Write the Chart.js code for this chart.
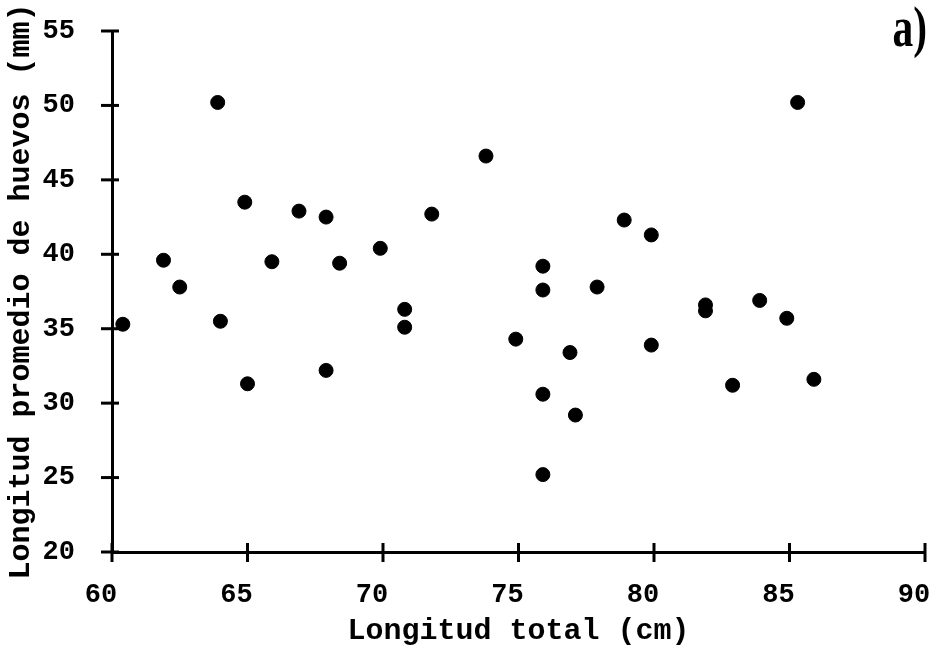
<!DOCTYPE html>
<html>
<head>
<meta charset="utf-8">
<script src="https://cdn.jsdelivr.net/npm/chart.js"></script>
<style>
  html, body { margin: 0; padding: 0; background: #fff; }
  #wrap { width: 935px; height: 646px; }
</style>
</head>
<body>
<div id="wrap"><canvas id="grafico"></canvas></div>
<script>
// longitud total de la hembra (cm)
const longitudTotal = [
    60.4, 63.9, 61.9, 62.5, 64.0, 64.9, 65.0, 65.9, 66.9, 67.9,
    71.8, 69.9, 68.4, 73.8, 70.8, 70.8, 67.9, 78.9, 79.9, 75.9,
    75.9, 77.9, 74.9, 76.9, 79.9, 75.9, 77.1, 75.9, 81.9, 81.9,
    83.9, 84.9, 82.9, 85.9, 85.3
];
// longitud promedio de huevos (mm)
const longitudHuevos = [
    35.3, 50.2, 39.6, 37.8, 35.5, 43.5, 31.3, 39.5, 42.9, 42.5,
    42.7, 40.4, 39.4, 46.6, 36.3, 35.1, 32.2, 42.3, 41.3, 39.2,
    37.6, 37.8, 34.3, 33.4, 33.9, 30.6, 29.2, 25.2, 36.6, 36.2,
    36.9, 35.7, 31.2, 31.6, 50.2
];
const ticksX = [60, 65, 70, 75, 80, 85, 90];
const ticksY = [20, 25, 30, 35, 40, 45, 50, 55];

const puntos = longitudTotal.map((x, i) => ({ x: x, y: longitudHuevos[i] }));

const fuenteMono = "'Liberation Mono', 'DejaVu Sans Mono', monospace";

// marcas que cruzan el eje (como en el original)
const marcasCruzadas = {
    id: 'marcasCruzadas',
    afterDraw(chart) {
        const ctx = chart.ctx;
        const sx = chart.scales.x;
        const sy = chart.scales.y;
        ctx.save();
        ctx.strokeStyle = '#000';
        ctx.lineWidth = 3;
        ticksY.forEach(v => {
            const py = sy.getPixelForValue(v);
            ctx.beginPath();
            ctx.moveTo(sx.left - 11, py);
            ctx.lineTo(sx.left + 7, py);
            ctx.stroke();
        });
        ticksX.forEach(v => {
            const px = sx.getPixelForValue(v);
            ctx.beginPath();
            ctx.moveTo(px, sy.bottom - 9);
            ctx.lineTo(px, sy.bottom + 10);
            ctx.stroke();
        });
        // etiqueta del panel
        ctx.fillStyle = '#000';
        ctx.font = "bold 56px 'Liberation Serif', serif";
        ctx.textAlign = 'right';
        ctx.textBaseline = 'alphabetic';
        ctx.translate(sx.right + 2, 46);
        ctx.scale(0.74, 1);
        ctx.fillText('a)', 0, 0);
        ctx.restore();
    }
};

const config = {
    type: 'scatter',
    data: {
        datasets: [{
            data: puntos,
            backgroundColor: '#000',
            borderColor: '#000',
            borderWidth: 1,
            pointRadius: 7,
            pointHoverRadius: 7
        }]
    },
    options: {
        responsive: true,
        maintainAspectRatio: false,
        animation: false,
        layout: { padding: { left: 0, right: 10, top: 31, bottom: 0 } },
        plugins: {
            legend: { display: false },
            tooltip: { enabled: false }
        },
        scales: {
            x: {
                type: 'linear',
                min: 60,
                max: 90,
                afterBuildTicks: (scale) => { scale.ticks = ticksX.map(v => ({ value: v })); },
                afterFit: (scale) => {
                    scale.height = 94;
                    scale.paddingLeft = 0;
                    scale.paddingRight = 0;
                },
                grid: { drawOnChartArea: false, drawTicks: false },
                border: { color: '#000', width: 3 },
                ticks: {
                    color: '#000',
                    padding: 27,
                    labelOffset: -11,
                    maxRotation: 0,
                    font: { family: fuenteMono, size: 27, weight: 'bold' }
                },
                title: {
                    display: true,
                    text: 'Longitud total (cm)',
                    color: '#000',
                    padding: 0,
                    font: { family: fuenteMono, size: 30, weight: 'bold', lineHeight: 1 }
                }
            },
            y: {
                type: 'linear',
                min: 20,
                max: 55,
                afterBuildTicks: (scale) => { scale.ticks = ticksY.map(v => ({ value: v })); },
                afterFit: (scale) => {
                    scale.width = 112;
                    scale.paddingTop = 0;
                    scale.paddingBottom = 0;
                },
                grid: { drawOnChartArea: false, drawTicks: false },
                border: { color: '#000', width: 3 },
                ticks: {
                    color: '#000',
                    padding: 37,
                    font: { family: fuenteMono, size: 27, weight: 'bold' }
                },
                title: {
                    display: true,
                    text: 'Longitud promedio de huevos (mm)',
                    color: '#000',
                    padding: { top: 6, bottom: 0 },
                    font: { family: fuenteMono, size: 30, weight: 'bold', lineHeight: 1 }
                }
            }
        }
    },
    plugins: [marcasCruzadas]
};

new Chart(document.getElementById('grafico'), config);
</script>
</body>
</html>
